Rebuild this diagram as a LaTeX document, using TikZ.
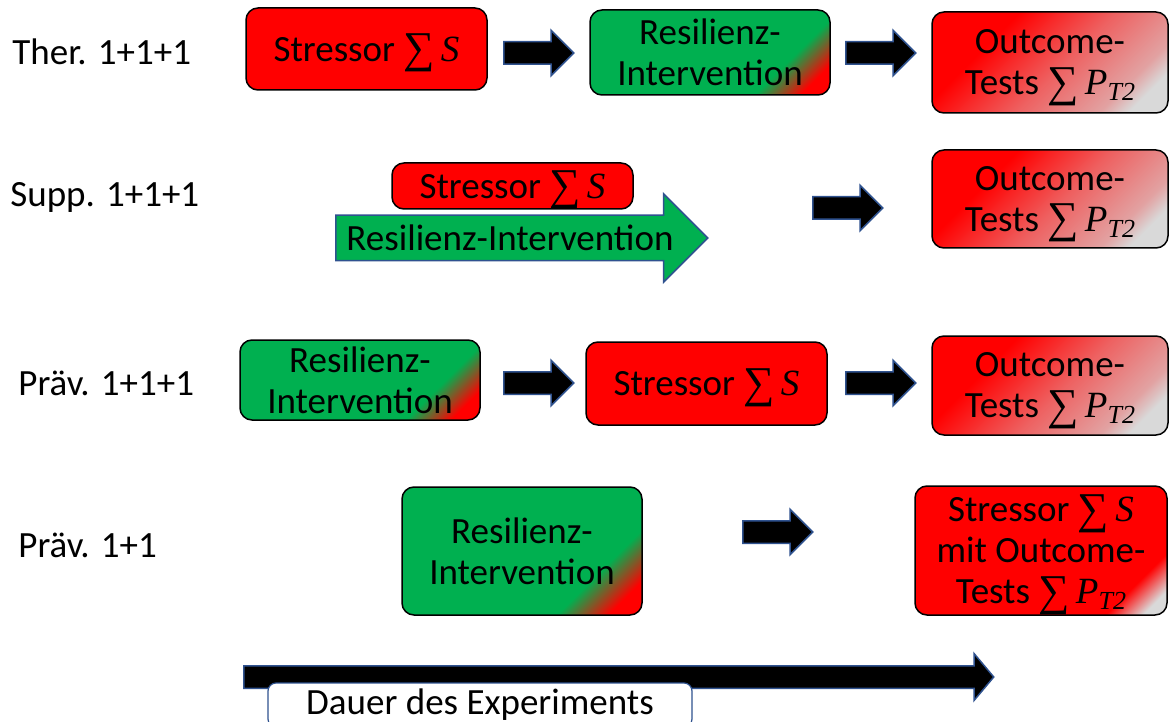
\documentclass[tikz,border=0pt]{standalone}
\usepackage{amsmath}
\usepackage{amssymb}
\usepackage{fontspec}
\setmainfont{Carlito}
\newfontfamily\sumfont{Liberation Serif}
\usetikzlibrary{shapes.arrows}

\definecolor{resred}{RGB}{255,0,0}
\definecolor{resgreen}{RGB}{0,176,80}
\definecolor{arrline}{RGB}{47,82,143}
\definecolor{outgray}{RGB}{217,217,217}
\definecolor{outpink}{RGB}{238,96,96}
\definecolor{outrose}{RGB}{226,162,162}

\pgfdeclarehorizontalshading{resshade}{100bp}{color(0bp)=(resgreen); color(69bp)=(resgreen); color(79bp)=(resred); color(100bp)=(resred)}
\pgfdeclarehorizontalshading{outshade}{100bp}{color(0bp)=(resred); color(33bp)=(resred); color(53bp)=(outpink); color(71bp)=(outrose); color(77bp)=(outgray); color(100bp)=(outgray)}
\pgfdeclarehorizontalshading{finshade}{100bp}{color(0bp)=(resred); color(74bp)=(resred); color(81bp)=(outgray); color(100bp)=(outgray)}

% Summenzeichen wie im Original (Serifenschrift, kursiv)
\newcommand{\sumsym}{\smash{\raisebox{-0.04em}{\fontsize{22}{22}\selectfont\sumfont ∑}}}
\newcommand{\sumS}{{\sumsym\sumfont\itshape\,S}}
\newcommand{\sumP}{{\sumsym\sumfont\itshape\,P\smash{\raisebox{-0.35ex}{\fontsize{13}{13}\selectfont T2}}}}

\begin{document}
\begin{tikzpicture}[x=0.5pt,y=-0.5pt,font=\fontsize{18.5}{20.5}\selectfont]
  \tikzstyle{box}=[draw=black,line width=0.75pt,rounded corners=6pt,align=center,inner sep=0pt]
  \tikzstyle{stressbox}=[box,fill=resred]
  \tikzstyle{resbox}=[box,shade,shading=resshade,shading angle=-45]
  \tikzstyle{outbox}=[box,shade,shading=outshade,shading angle=-45]
  \tikzstyle{finbox}=[box,shade,shading=finshade,shading angle=-45]
  \tikzstyle{blockarr}=[single arrow,draw=arrline,fill=black,line width=0.75pt,inner xsep=0pt,
    inner ysep=5.25pt,minimum height=35pt,single arrow head extend=5.75pt,anchor=tail]
  \tikzstyle{rowlabel}=[anchor=west,inner sep=0pt]

  \useasboundingbox (0,0) rectangle (1169,722);

  % Ther. 1+1+1
  \node[rowlabel] (ther_lab) at (12,52) {Ther. 1+1+1};
  \node[stressbox,minimum width=120.5pt,minimum height=41pt] (ther_s) at (366.5,49) {Stressor \sumS};
  \node[blockarr] (ther_a1) at (503,53) {};
  \node[resbox,minimum width=120pt,minimum height=42.5pt] (ther_r) at (710,52.5) {Resilienz-\\Intervention};
  \node[blockarr] (ther_a2) at (845,53) {};
  \node[outbox,minimum width=118pt,minimum height=50.5pt] (ther_o) at (1050,62.5) {Outcome-\\Tests \sumP};

  % Supp. 1+1+1
  \node[rowlabel] (supp_lab) at (10,197) {Supp. 1+1+1};
  \node[single arrow,draw=arrline,fill=resgreen,line width=0.75pt,inner xsep=0pt,inner ysep=11pt,anchor=tail,
    minimum height=186pt,single arrow head extend=10.75pt] (supp_r) at (335,238) {};
  \node (supp_rt) at (510,238) {Resilienz-Intervention};
  \node[stressbox,minimum width=120.5pt,minimum height=23pt] (supp_s) at (512.5,186) {Stressor \sumS};
  \node[blockarr] (supp_a) at (812,208) {};
  \node[outbox,minimum width=118pt,minimum height=49pt] (supp_o) at (1050,199) {Outcome-\\Tests \sumP};

  % Praev. 1+1+1
  \node[rowlabel] (prae_lab) at (18,383) {Präv. 1+1+1};
  \node[resbox,minimum width=120pt,minimum height=40pt] (prae_r) at (360,380) {Resilienz-\\Intervention};
  \node[blockarr] (prae_a1) at (503,383) {};
  \node[stressbox,minimum width=120.5pt,minimum height=41.5pt] (prae_s) at (706.5,383.5) {Stressor \sumS};
  \node[blockarr] (prae_a2) at (845,383) {};
  \node[outbox,minimum width=118pt,minimum height=49.5pt] (prae_o) at (1050,385.5) {Outcome-\\Tests \sumP};

  % Praev. 1+1
  \node[rowlabel] (pzwei_lab) at (18,545) {Präv. 1+1};
  \node[resbox,minimum width=120pt,minimum height=64pt] (pzwei_r) at (522,551) {Resilienz-\\Intervention};
  \node[blockarr] (pzwei_a) at (742,532) {};
  \node[finbox,minimum width=126pt,minimum height=64.5pt] (pzwei_f) at (1041,550.5)
    {Stressor \sumS\\mit Outcome-\\Tests \sumP};

  % Zeitachse
  \node[single arrow,draw=arrline,fill=black,line width=0.75pt,inner xsep=0pt,inner ysep=5.25pt,anchor=tail,
    minimum height=375pt,single arrow head extend=6pt,single arrow tip angle=100] (zeit) at (243,677) {};
  \node[draw=arrline,fill=white,line width=0.6pt,rounded corners=4pt,
    minimum width=212pt,minimum height=22pt,inner sep=0pt] (dauer) at (480,705) {Dauer des Experiments};
\end{tikzpicture}
\end{document}
